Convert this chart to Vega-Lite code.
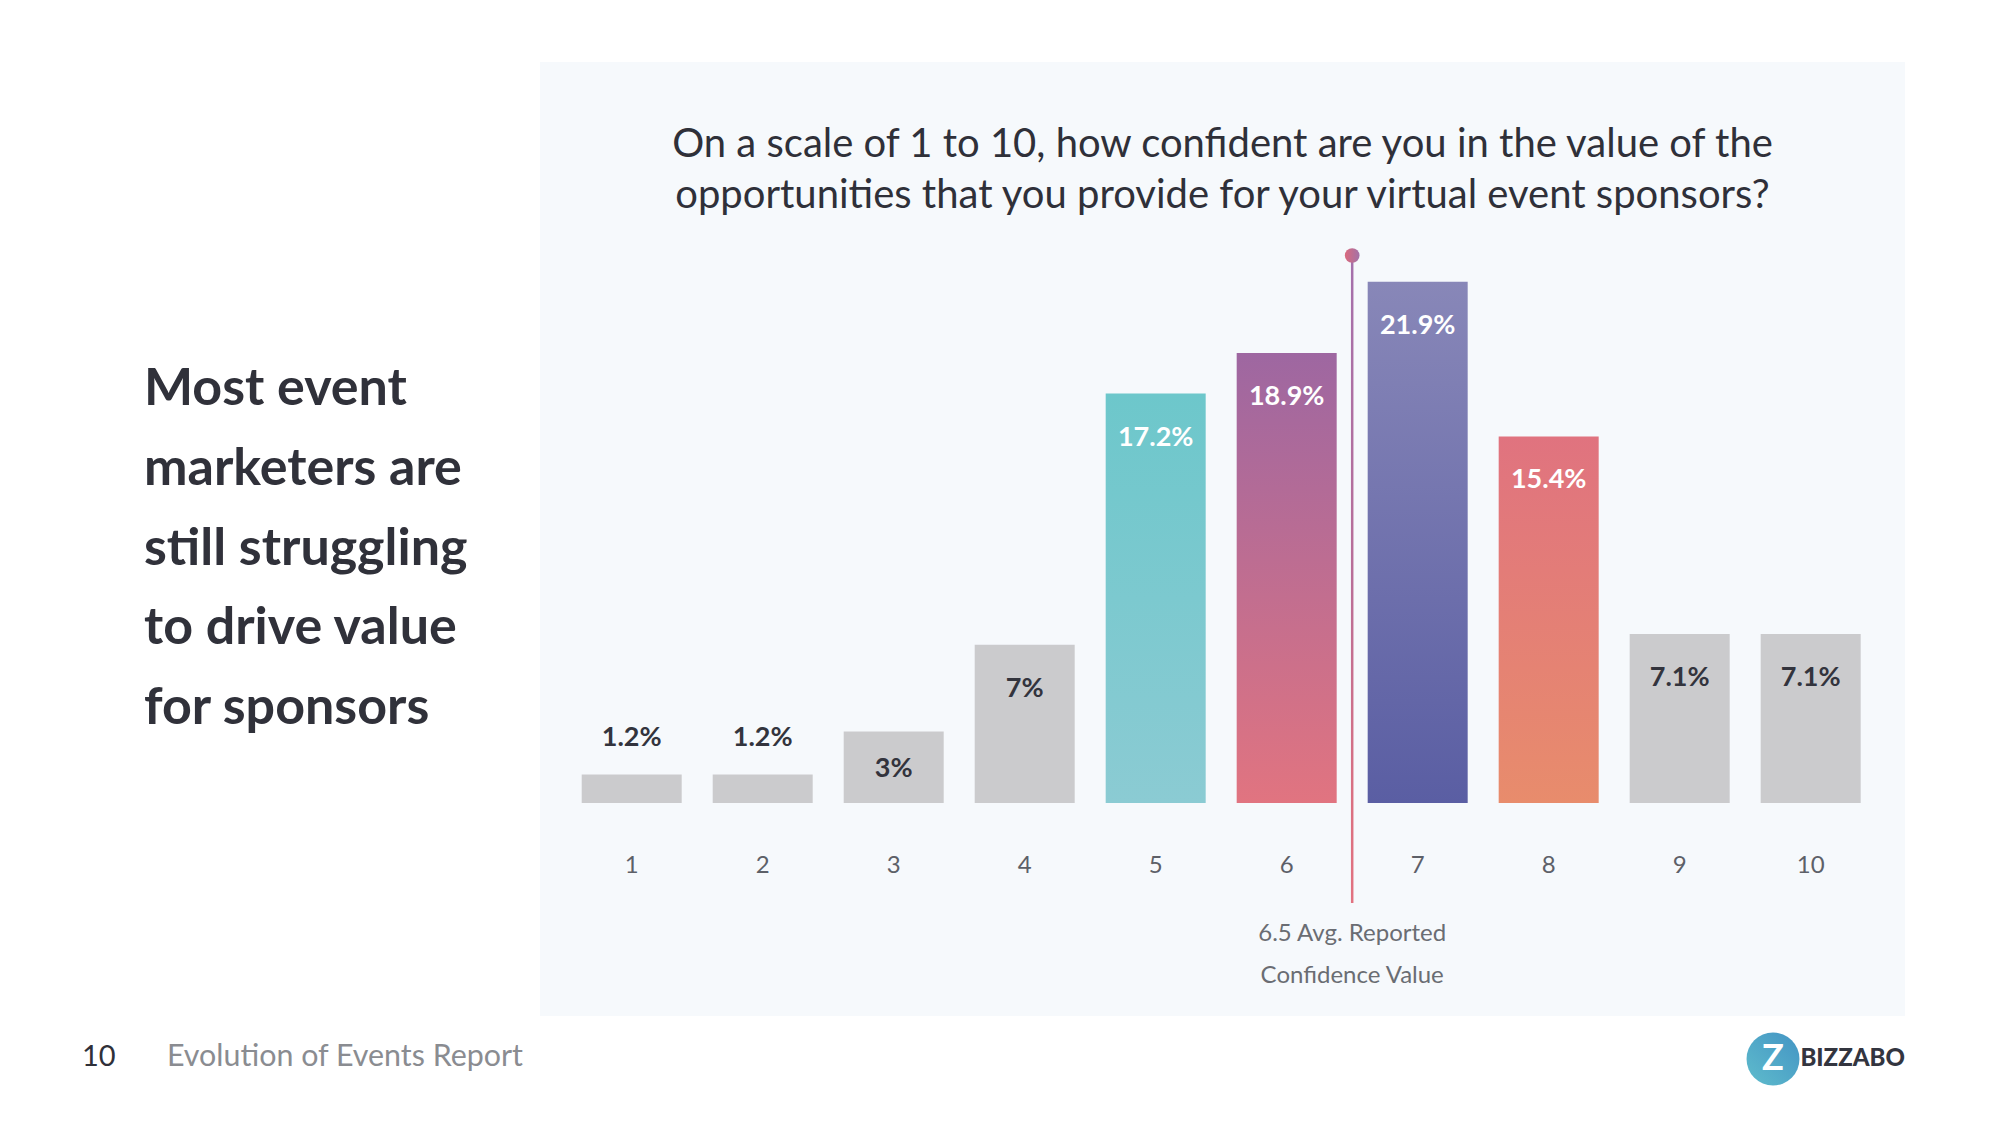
{
  "$schema": "https://vega.github.io/schema/vega-lite/v6.json",
  "background": "#ffffff",
  "padding": {"left": 82, "top": 62, "right": 94, "bottom": 35},
  "config": {"view": {"stroke": null}, "font": "Lato"},
  "datasets": {
    "scores": [
      {"score": 1, "pct": 1.2, "label": "1.2%"},
      {"score": 2, "pct": 1.2, "label": "1.2%"},
      {"score": 3, "pct": 3, "label": "3%"},
      {"score": 4, "pct": 6.65, "label": "7%"},
      {"score": 5, "pct": 17.2, "label": "17.2%"},
      {"score": 6, "pct": 18.9, "label": "18.9%"},
      {"score": 7, "pct": 21.9, "label": "21.9%"},
      {"score": 8, "pct": 15.4, "label": "15.4%"},
      {"score": 9, "pct": 7.1, "label": "7.1%"},
      {"score": 10, "pct": 7.1, "label": "7.1%"}
    ],
    "headline": [
      {"line": 1, "text": "Most event"},
      {"line": 2, "text": "marketers are"},
      {"line": 3, "text": "still struggling"},
      {"line": 4, "text": "to drive value"},
      {"line": 5, "text": "for sponsors"}
    ],
    "question": [{"q": ["On a scale of 1 to 10, how confident are you in the value of the", "opportunities that you provide for your virtual event sponsors?"]}],
    "avg": [{"avg": 6.5, "label": ["6.5 Avg. Reported", "Confidence Value"]}],
    "footer": [{"page": "10", "doc": "Evolution of Events Report", "brand": "BIZZABO", "mono": "Z"}]
  },
  "spacing": 0,
  "vconcat": [
    {
      "spacing": 16,
      "hconcat": [
        {
          "width": 442,
          "height": 954,
          "data": {"name": "headline"},
          "mark": {"type": "text", "align": "left", "baseline": "middle", "dx": 62, "font": "Lato", "fontSize": 52, "fontWeight": "bold", "color": "#30313a"},
          "encoding": {
            "x": {"datum": 0, "type": "quantitative", "scale": {"domain": [0, 1]}, "axis": null},
            "y": {"field": "line", "type": "quantitative", "scale": {"domain": [-3.105, 8.865], "reverse": true, "nice": false, "zero": false, "padding": 0}, "axis": null},
            "text": {"field": "text"}
          }
        },
        {
          "width": 1365,
          "height": 954,
          "view": {"fill": "#f6f9fc", "stroke": null},
          "data": {"name": "scores"},
          "layer": [
            {
              "transform": [{"filter": "datum.score < 5 || datum.score > 8"}],
              "mark": {"type": "bar", "width": 100, "fill": "#cbcbcd"},
              "encoding": {
                "x": {"field": "score", "type": "quantitative", "scale": {"domain": [0.3, 10.72], "nice": false, "zero": false, "padding": 0}, "axis": null},
                "y": {"field": "pct", "type": "quantitative", "scale": {"domain": [-8.95, 31.13], "nice": false, "zero": false, "padding": 0}, "axis": null},
                "y2": {"datum": 0}
              }
            },
            {
              "transform": [{"filter": "datum.score == 5"}],
              "mark": {"type": "bar", "width": 100, "fill": {"gradient": "linear", "x1": 0, "y1": 0, "x2": 0, "y2": 1, "stops": [{"offset": 0, "color": "#6dc7cb"}, {"offset": 1, "color": "#8bcbd3"}]}},
              "encoding": {"x": {"field": "score", "type": "quantitative"}, "y": {"field": "pct", "type": "quantitative"}, "y2": {"datum": 0}}
            },
            {
              "transform": [{"filter": "datum.score == 6"}],
              "mark": {"type": "bar", "width": 100, "fill": {"gradient": "linear", "x1": 0, "y1": 0, "x2": 0, "y2": 1, "stops": [{"offset": 0, "color": "#9e67a1"}, {"offset": 1, "color": "#e17480"}]}},
              "encoding": {"x": {"field": "score", "type": "quantitative"}, "y": {"field": "pct", "type": "quantitative"}, "y2": {"datum": 0}}
            },
            {
              "transform": [{"filter": "datum.score == 7"}],
              "mark": {"type": "bar", "width": 100, "fill": {"gradient": "linear", "x1": 0, "y1": 0, "x2": 0, "y2": 1, "stops": [{"offset": 0, "color": "#8887b8"}, {"offset": 1, "color": "#5a5ea3"}]}},
              "encoding": {"x": {"field": "score", "type": "quantitative"}, "y": {"field": "pct", "type": "quantitative"}, "y2": {"datum": 0}}
            },
            {
              "transform": [{"filter": "datum.score == 8"}],
              "mark": {"type": "bar", "width": 100, "fill": {"gradient": "linear", "x1": 0, "y1": 0, "x2": 0, "y2": 1, "stops": [{"offset": 0, "color": "#e0737f"}, {"offset": 1, "color": "#e88c6c"}]}},
              "encoding": {"x": {"field": "score", "type": "quantitative"}, "y": {"field": "pct", "type": "quantitative"}, "y2": {"datum": 0}}
            },
            {
              "data": {"name": "avg"},
              "mark": {"type": "bar", "width": 2.5, "fill": {"gradient": "linear", "x1": 0, "y1": 0, "x2": 0, "y2": 1, "stops": [{"offset": 0, "color": "#a470ac"}, {"offset": 0.5, "color": "#b96e98"}, {"offset": 0.85, "color": "#db7081"}, {"offset": 1, "color": "#e27280"}]}},
              "encoding": {"x": {"field": "avg", "type": "quantitative"}, "y": {"datum": 23}, "y2": {"datum": -4.2}}
            },
            {
              "data": {"name": "avg"},
              "mark": {"type": "point", "shape": "circle", "filled": true, "size": 216, "opacity": 1, "fill": {"gradient": "linear", "x1": 0, "y1": 0, "x2": 1, "y2": 0, "stops": [{"offset": 0, "color": "#da6a7d"}, {"offset": 1, "color": "#a272a8"}]}},
              "encoding": {"x": {"field": "avg", "type": "quantitative"}, "y": {"datum": 23}}
            },
            {
              "data": {"name": "question"},
              "mark": {"type": "text", "align": "center", "baseline": "middle", "font": "Lato", "fontSize": 40, "lineHeight": 51, "color": "#2f3039"},
              "encoding": {"x": {"datum": 5.51, "type": "quantitative"}, "y": {"datum": 27.63}, "text": {"field": "q"}}
            },
            {
              "transform": [{"filter": "datum.pct >= 5"}],
              "mark": {"type": "text", "dy": 44, "baseline": "middle", "align": "center", "font": "Lato", "fontSize": 27, "fontWeight": "bold"},
              "encoding": {
                "x": {"field": "score", "type": "quantitative"},
                "y": {"field": "pct", "type": "quantitative"},
                "text": {"field": "label"},
                "color": {"condition": {"test": "datum.score >= 5 && datum.score <= 8", "value": "#ffffff"}, "value": "#33343d"}
              }
            },
            {
              "transform": [{"filter": "datum.score == 3"}],
              "mark": {"type": "text", "dy": 37, "baseline": "middle", "align": "center", "font": "Lato", "fontSize": 27, "fontWeight": "bold", "color": "#33343d"},
              "encoding": {"x": {"field": "score", "type": "quantitative"}, "y": {"field": "pct", "type": "quantitative"}, "text": {"field": "label"}}
            },
            {
              "transform": [{"filter": "datum.pct < 2"}],
              "mark": {"type": "text", "dy": -36, "baseline": "middle", "align": "center", "font": "Lato", "fontSize": 27, "fontWeight": "bold", "color": "#33343d"},
              "encoding": {"x": {"field": "score", "type": "quantitative"}, "y": {"field": "pct", "type": "quantitative"}, "text": {"field": "label"}}
            },
            {
              "mark": {"type": "text", "baseline": "middle", "align": "center", "font": "Lato", "fontSize": 24, "color": "#5d6068"},
              "encoding": {"x": {"field": "score", "type": "quantitative"}, "y": {"datum": -2.65}, "text": {"field": "score", "type": "quantitative"}}
            },
            {
              "data": {"name": "avg"},
              "mark": {"type": "text", "baseline": "middle", "align": "center", "font": "Lato", "fontSize": 24, "lineHeight": 42, "color": "#6a6d73"},
              "encoding": {"x": {"field": "avg", "type": "quantitative"}, "y": {"datum": -5.5}, "text": {"field": "label"}}
            }
          ]
        }
      ]
    },
    {
      "width": 1823,
      "height": 76,
      "data": {"name": "footer"},
      "layer": [
        {
          "mark": {"type": "text", "align": "left", "baseline": "middle", "dy": 2.5, "font": "Lato", "fontSize": 29, "color": "#2f3039"},
          "encoding": {"x": {"datum": 0, "type": "quantitative", "scale": {"domain": [0, 1]}, "axis": null}, "text": {"field": "page"}}
        },
        {
          "mark": {"type": "text", "align": "left", "baseline": "middle", "dx": 85, "dy": 2.5, "font": "Lato", "fontSize": 30.4, "color": "#8a8c91"},
          "encoding": {"x": {"datum": 0, "type": "quantitative"}, "text": {"field": "doc"}}
        },
        {
          "mark": {"type": "point", "shape": "circle", "filled": true, "opacity": 1, "size": 2800, "fill": {"gradient": "linear", "x1": 0, "y1": 1, "x2": 1, "y2": 0, "stops": [{"offset": 0, "color": "#5fbccc"}, {"offset": 1, "color": "#4394c4"}]}},
          "encoding": {"x": {"datum": 1, "type": "quantitative"}, "xOffset": {"value": -132}, "yOffset": {"value": 5}}
        },
        {
          "mark": {"type": "text", "align": "center", "baseline": "middle", "dx": -132, "dy": 5, "font": "Lato", "fontSize": 36, "fontWeight": "bold", "color": "#ffffff"},
          "encoding": {"x": {"datum": 1, "type": "quantitative"}, "text": {"field": "mono"}}
        },
        {
          "mark": {"type": "text", "align": "right", "baseline": "middle", "dy": 5, "font": "Lato", "fontSize": 24, "fontWeight": 900, "letterSpacing": -2, "color": "#33353f"},
          "encoding": {"x": {"datum": 1, "type": "quantitative"}, "text": {"field": "brand"}}
        }
      ]
    }
  ]
}
